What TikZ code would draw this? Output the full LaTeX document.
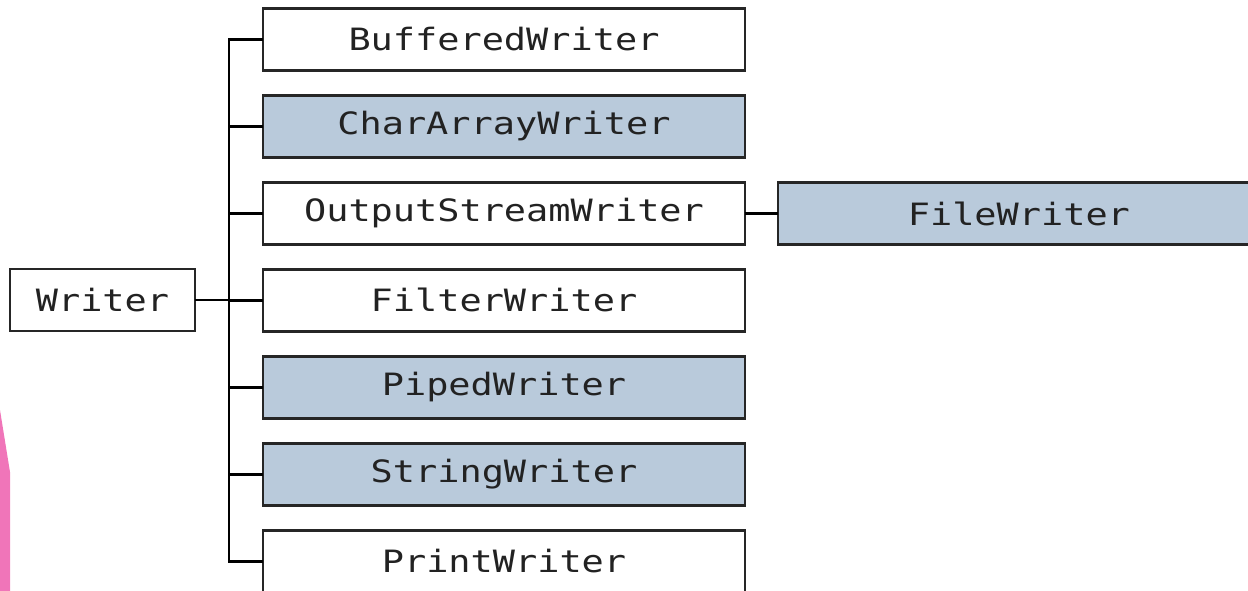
\documentclass[tikz,border=0pt]{standalone}
\usepackage{fontspec}
\newfontfamily\classfont[FakeStretch=1.2]{DejaVu Sans Mono}
\usepackage{xcolor}
\usepackage{tikz}
\usetikzlibrary{
  positioning
}
\definecolor{classblue}{RGB}{185,202,219}
\definecolor{sidepink}{RGB}{240,117,185}
\definecolor{labelgray}{RGB}{34,34,34}

\begin{document}
\begin{tikzpicture}[x=0.02cm,y=-0.02cm,
  cls/.style={draw=black!85,line width=1.6pt,fill=white,outer sep=0pt,
    minimum width=9.64cm,minimum height=1.24cm,inner sep=0pt,
    font={\classfont\fontsize{17.5}{21}\selectfont},text=labelgray},
  sub/.style={cls,fill=classblue},
  link/.style={line width=1.3pt,black}]
  % 画像の大きさに合わせる
  \useasboundingbox (0,0) rectangle (1248,591);

  % 左端のピンクの帯
  \fill[sidepink] (0,410) -- (10,472) -- (10,591) -- (0,591) -- cycle;

  % 基底クラス
  \node[cls,minimum width=3.7cm] (wrt) at (102.5,300) {Writer};

  % サブクラス(縦に並べる)
  \node[cls] (buf) at (504,39.5) {BufferedWriter};
  \node[sub,below=0.5cm of buf] (chr) {CharArrayWriter};
  \node[cls,below=0.5cm of chr] (osw) {OutputStreamWriter};
  \node[cls,below=0.5cm of osw] (flt) {FilterWriter};
  \node[sub,below=0.5cm of flt] (pip) {PipedWriter};
  \node[sub,below=0.5cm of pip] (str) {StringWriter};
  \node[cls,below=0.5cm of str] (prt) {PrintWriter};
  \node[sub,right=0.66cm of osw] (fil) {FileWriter};

  % 幹の線と枝
  \coordinate (trunk) at (229,300);
  \draw[link] (wrt.east) -- (trunk);
  \foreach \n in {buf,chr,osw,flt,pip,str,prt}
    \draw[link] (trunk) |- (\n.west);
  \draw[link] (osw.east) -- (fil.west);
\end{tikzpicture}
\end{document}
